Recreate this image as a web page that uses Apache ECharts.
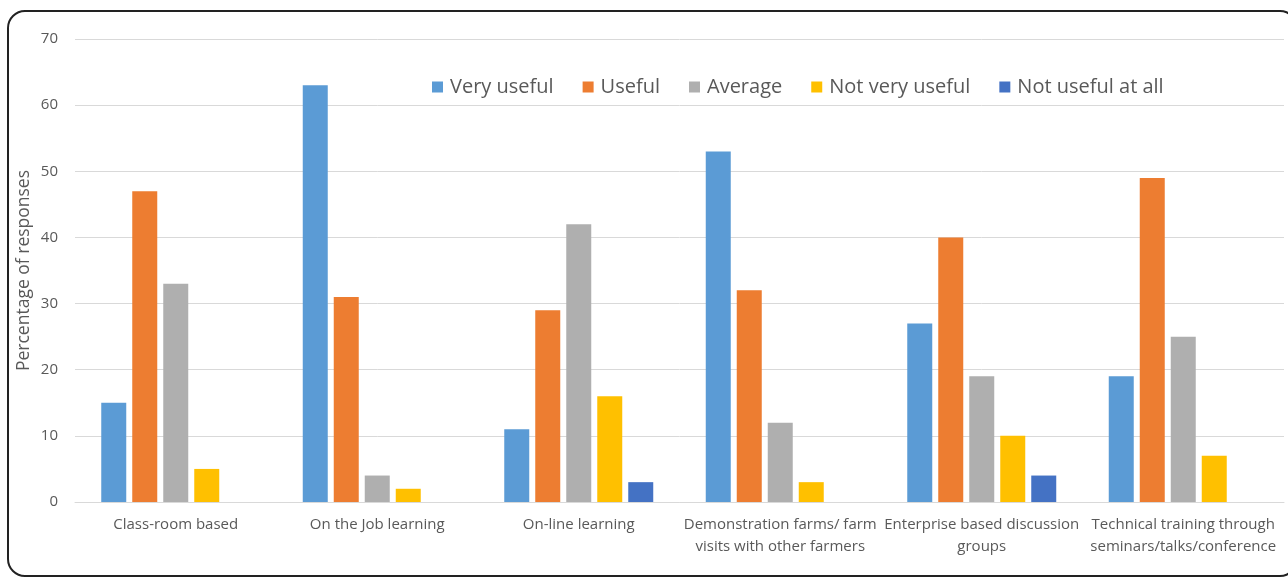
<!DOCTYPE html>
<html>
<head>
<meta charset="utf-8">
<script src="https://cdn.jsdelivr.net/npm/echarts@6/dist/echarts.min.js"></script>
<style>
  html, body { margin: 0; padding: 0; background: #fff; }
  #chart { width: 1288px; height: 580px; }
  #frame {
    position: absolute; left: 7px; top: 10px; width: 1291px; height: 567px;
    border: 2px solid #222; border-radius: 18px; box-sizing: border-box;
    pointer-events: none;
  }
</style>
</head>
<body>
<div id="chart"></div>
<div id="frame"></div>
<script>
// Learning approaches rated by respondents
const categories = [
  'Class-room based',
  'On the Job learning',
  'On-line learning',
  'Demonstration farms/ farm\nvisits with other farmers',
  'Enterprise based discussion\ngroups',
  'Technical training through\nseminars/talks/conference'
];
const seriesNames = ['Very useful', 'Useful', 'Average', 'Not very useful', 'Not useful at all'];
const veryUseful    = [15, 63, 11, 53, 27, 19];
const useful        = [47, 31, 29, 32, 40, 49];
const average       = [33, 4, 42, 12, 19, 25];
const notVeryUseful = [5, 2, 16, 3, 10, 7];
const notUsefulAtAll = [0, 0, 3, 0, 4, 0];
const colors = ['#5B9BD5', '#ED7D31', '#AFAFAF', '#FFC000', '#4472C4'];

const values = [veryUseful, useful, average, notVeryUseful, notUsefulAtAll];
const font = 'Open Sans';

const chart = echarts.init(document.getElementById('chart'));
chart.setOption({
  animation: false,
  color: colors,
  textStyle: { fontFamily: font },
  grid: { left: 75, right: 4, top: 39, bottom: 78 },
  legend: {
    left: 427, top: 72,
    itemWidth: 11, itemHeight: 11, itemGap: 29,
    icon: 'rect',
    textStyle: { fontSize: 20, color: '#595959', fontFamily: font, padding: [0, 0, 0, 2] },
    data: seriesNames
  },
  xAxis: {
    type: 'category',
    data: categories,
    axisLine: { lineStyle: { color: '#D9D9D9', width: 1 } },
    axisTick: { show: false },
    axisLabel: { interval: 0, color: '#595959', fontSize: 15, lineHeight: 22, margin: 12 }
  },
  yAxis: {
    type: 'value',
    min: 0, max: 70, interval: 10,
    name: 'Percentage of responses',
    nameLocation: 'middle',
    nameGap: 42,
    nameMoveOverlap: false,
    nameTextStyle: { color: '#595959', fontSize: 17.5 },
    axisLabel: { color: '#595959', fontSize: 15, margin: 17 },
    splitLine: { lineStyle: { color: '#D9D9D9', width: 1 } }
  },
  series: seriesNames.map((name, i) => ({
    name: name,
    type: 'bar',
    data: values[i],
    barWidth: 25,
    barGap: '24%'
  }))
});
</script>
</body>
</html>
